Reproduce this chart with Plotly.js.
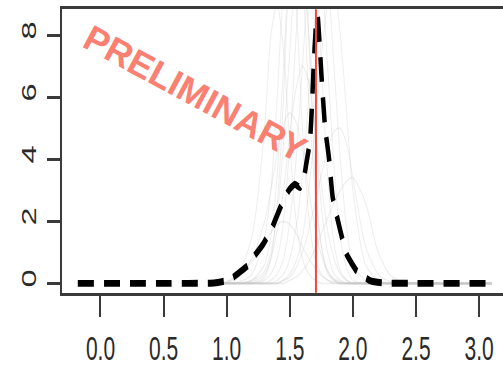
<!DOCTYPE html>
<html>
<head>
<meta charset="utf-8">
<script src="https://cdn.plot.ly/plotly-3.0.1.min.js"></script>
<style>
  html, body { margin: 0; padding: 0; background: #fff; }
  #wrap { width: 503px; height: 367px; overflow: hidden; position: relative; }
  #chart { width: 520px; height: 240px; transform: scaleY(1.5485); transform-origin: 0 0; position: absolute; left: 0; top: 0; }
  #wm {
    position: absolute; left: 195px; top: 94px;
    transform: translate(-50%, -50%) rotate(28.4deg);
    font-family: "Liberation Sans", Arial, Helvetica, sans-serif;
    font-weight: bold; font-size: 36px; color: #fa8072;
    white-space: nowrap; line-height: 1; pointer-events: none;
  }
</style>
</head>
<body>
<div id="wrap"><div id="chart"></div><div id="wm"></div></div>
<script>
// ---- data ----
const xTickVals = [0.0, 0.5, 1.0, 1.5, 2.0, 2.5, 3.0];
const xTickText = ["0.0", "0.5", "1.0", "1.5", "2.0", "2.5", "3.0"];
const yTickVals = [0, 2, 4, 6, 8];
const yTickText = ["0", "2", "4", "6", "8"];

// mean density (black dashed)
const meanX = [-0.18, 0.5, 0.9, 1.0, 1.05, 1.1, 1.18, 1.21, 1.29, 1.36, 1.42, 1.49, 1.54, 1.58, 1.61, 1.63, 1.66, 1.675, 1.69, 1.71, 1.72, 1.735, 1.75, 1.78, 1.81, 1.84, 1.90, 1.95, 2.03, 2.14, 2.25, 2.5, 3.11];
const meanY = [0, 0, 0.01, 0.09, 0.19, 0.35, 0.62, 0.83, 1.27, 1.8, 2.4, 2.99, 3.2, 3.09, 3.35, 3.85, 4.6, 5.68, 7.08, 8.48, 8.64, 7.8, 6.76, 5.0, 4.06, 2.77, 1.70, 0.94, 0.40, 0.08, 0.01, 0, 0];

// individual densities (light grey), shared grid
const gridX = [0.9, 1.0, 1.1, 1.2, 1.3, 1.35, 1.4, 1.45, 1.5, 1.55, 1.6, 1.65, 1.7, 1.75, 1.8, 1.85, 1.9, 1.95, 2.0, 2.1, 2.2, 2.3, 2.4, 3.1];
const g1  = [0, 0, 0.05, 0.3, 1.5, 3, 6, 9.5, 11, 9, 5, 2.2, 0.8, 0.3, 0.1, 0, 0, 0, 0, 0, 0, 0, 0, 0];
const g2  = [0, 0, 0, 0.1, 0.6, 1.5, 3.5, 7, 10.5, 12, 10, 6, 3, 1.2, 0.4, 0.1, 0, 0, 0, 0, 0, 0, 0, 0];
const g3  = [0, 0, 0, 0.1, 0.4, 1, 2.2, 4.5, 7.5, 9.8, 10, 8, 5, 2.5, 1, 0.3, 0.1, 0, 0, 0, 0, 0, 0, 0];
const g4  = [0, 0, 0, 0, 0.1, 0.3, 0.8, 2, 4.5, 8, 11.5, 13, 11, 7, 3.5, 1.3, 0.4, 0.1, 0, 0, 0, 0, 0, 0];
const g5  = [0, 0, 0, 0, 0, 0.1, 0.3, 0.8, 2, 4, 7, 9.8, 11, 10, 7, 3.8, 1.5, 0.5, 0.1, 0, 0, 0, 0, 0];
const g6  = [0, 0, 0, 0, 0, 0, 0.1, 0.3, 0.8, 1.8, 3.5, 6, 8.5, 10, 9.5, 7, 4, 1.8, 0.6, 0.1, 0, 0, 0, 0];
const g7  = [0, 0, 0, 0, 0, 0, 0, 0.1, 0.2, 0.5, 1, 1.7, 2.6, 3.5, 4.3, 4.9, 5, 4.5, 3.4, 1.2, 0.3, 0.05, 0, 0];
const g8  = [0, 0, 0, 0, 0, 0, 0, 0, 0.1, 0.2, 0.4, 0.7, 1.1, 1.6, 2.1, 2.6, 3, 3.3, 3.4, 2.6, 1, 0.25, 0.05, 0];
const g9  = [0, 0.05, 0.25, 0.7, 1.3, 1.65, 1.9, 2, 1.9, 1.6, 1.2, 0.8, 0.5, 0.25, 0.1, 0.05, 0, 0, 0, 0, 0, 0, 0, 0];
const g10 = [0, 0.05, 0.4, 1.5, 5, 8, 9, 7.5, 4.5, 2, 0.8, 0.3, 0.1, 0, 0, 0, 0, 0, 0, 0, 0, 0, 0, 0];
const g11 = [0, 0.02, 0.2, 0.8, 2, 3, 4.2, 5.1, 5.5, 5.2, 4.3, 3, 1.8, 0.9, 0.4, 0.15, 0.05, 0, 0, 0, 0, 0, 0, 0];
const g12 = [0, 0, 0, 0.05, 0.3, 0.8, 1.7, 3, 4.8, 6.3, 7, 6.5, 5, 3.2, 1.7, 0.8, 0.3, 0.1, 0, 0, 0, 0, 0, 0];
const g13 = [0, 0, 0, 0, 0, 0, 0, 0.1, 0.3, 0.7, 1.5, 3, 5, 7.3, 9, 9.5, 8, 5.5, 3, 0.6, 0.1, 0, 0, 0];
const g14 = [0, 0, 0, 0, 0.2, 0.8, 2.5, 6, 11, 15, 13, 8, 3.5, 1.2, 0.3, 0.1, 0, 0, 0, 0, 0, 0, 0, 0];
const greyCurves = [g1, g2, g3, g4, g5, g6, g7, g8, g9, g10, g11, g12, g13, g14];

const refX = 1.707;            // red vertical reference line
const watermark = "PRELIMINARY";

// ---- traces ----
const traces = [];
greyCurves.forEach(function (g) {
  traces.push({
    x: gridX, y: g, type: "scatter", mode: "lines",
    line: {color: "rgba(200,200,200,0.3)", width: 1, shape: "spline", smoothing: 0.8},
    hoverinfo: "skip", showlegend: false
  });
});
traces.push({
  x: meanX, y: meanY, type: "scatter", mode: "lines",
  line: {color: "#000000", width: 4.5, dash: "16px,10px", shape: "spline", smoothing: 0.4},
  showlegend: false
});

const fontFam = "Liberation Sans, Arial, Helvetica, sans-serif";
const layout = {
  width: 520, height: 240,
  margin: {l: 62, r: 14, t: 6, b: 51, pad: 0},
  paper_bgcolor: "rgba(0,0,0,0)", plot_bgcolor: "rgba(0,0,0,0)",
  showlegend: false,
  xaxis: {
    range: [-0.305, 3.213], tickvals: xTickVals, ticktext: xTickText,
    showgrid: false, zeroline: false,
    showline: true, linecolor: "#3a3a3a", linewidth: 2, mirror: true,
    ticks: "outside", ticklen: 14, tickwidth: 2, tickcolor: "#3a3a3a",
    tickfont: {family: fontFam, size: 21, color: "#2a2a2a"},
    ticklabelstandoff: 2
  },
  yaxis: {
    range: [-0.30, 8.84], tickvals: yTickVals, ticktext: yTickText,
    showgrid: false, zeroline: false,
    showline: true, linecolor: "#3a3a3a", linewidth: 2,
    ticks: "outside", ticklen: 13, tickwidth: 2, tickcolor: "#3a3a3a",
    tickangle: -90,
    tickfont: {family: fontFam, size: 21, color: "#2a2a2a"},
    ticklabelstandoff: 3
  },
  shapes: [{
    type: "line", xref: "x", yref: "paper", x0: refX, x1: refX, y0: 0, y1: 1,
    line: {color: "#f0473d", width: 2}
  }]
};

document.getElementById("wm").textContent = watermark;
Plotly.newPlot("chart", traces, layout, {staticPlot: true, displayModeBar: false});
</script>
</body>
</html>
